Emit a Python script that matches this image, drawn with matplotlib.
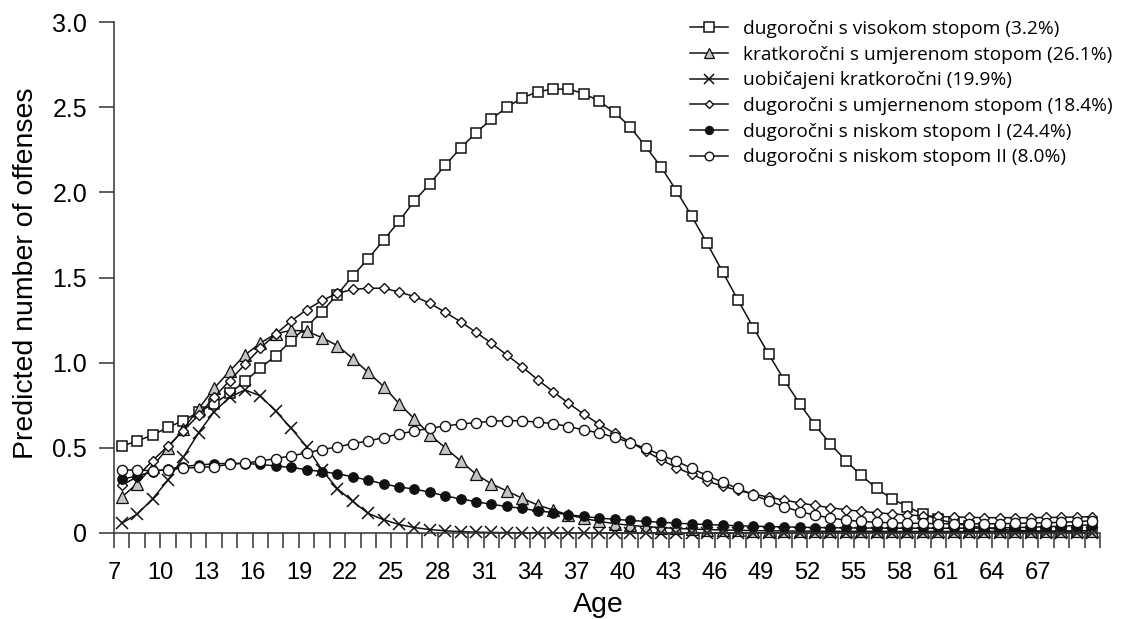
import matplotlib
matplotlib.use('Agg')
import matplotlib.pyplot as plt
from matplotlib.font_manager import FontProperties

# ---------------- data ----------------
ages = list(range(7, 71))

high_rate = [0.51, 0.54, 0.575, 0.62, 0.66, 0.71, 0.76, 0.82, 0.89, 0.97,
             1.04, 1.13, 1.21, 1.30, 1.40, 1.51, 1.61, 1.72, 1.83, 1.95,
             2.05, 2.16, 2.26, 2.35, 2.43, 2.50, 2.555, 2.59, 2.607, 2.605,
             2.58, 2.535, 2.47, 2.384, 2.27, 2.15, 2.01, 1.86, 1.70, 1.534,
             1.368, 1.206, 1.049, 0.898, 0.76, 0.634, 0.523, 0.425, 0.338, 0.262,
             0.20, 0.155, 0.11, 0.08, 0.058, 0.042, 0.03, 0.022, 0.016, 0.012,
             0.009, 0.007, 0.005, 0.004]

short_moderate = [0.21, 0.29, 0.39, 0.50, 0.61, 0.73, 0.85, 0.95, 1.045, 1.115,
                  1.17, 1.19, 1.185, 1.147, 1.10, 1.024, 0.943, 0.86, 0.76, 0.67,
                  0.578, 0.50, 0.423, 0.345, 0.288, 0.247, 0.204, 0.164, 0.135, 0.106,
                  0.086, 0.068, 0.055, 0.045, 0.038, 0.032, 0.027, 0.023, 0.02, 0.018,
                  0.016, 0.014, 0.013, 0.012, 0.011, 0.011, 0.010, 0.010, 0.010, 0.010,
                  0.009, 0.009, 0.009, 0.009, 0.009, 0.009, 0.010, 0.010, 0.010, 0.011,
                  0.011, 0.012, 0.013, 0.014]

usual_short = [0.057, 0.11, 0.20, 0.31, 0.445, 0.59, 0.712, 0.797, 0.84, 0.805,
               0.715, 0.615, 0.507, 0.37, 0.26, 0.185, 0.115, 0.078, 0.05, 0.032,
               0.02, 0.013, 0.008, 0.005, 0.003, 0.002, 0.001, 0.001, 0.0, 0.0,
               0.0, 0.0, 0.0, 0.0, 0.0, 0.0, 0.0, 0.0, 0.0, 0.0,
               0.0, 0.0, 0.0, 0.0, 0.0, 0.0, 0.0, 0.0, 0.0, 0.0,
               0.0, 0.0, 0.0, 0.0, 0.0, 0.0, 0.0, 0.0, 0.0, 0.0,
               0.0, 0.0, 0.0, 0.0]

long_moderate = [0.28, 0.33, 0.425, 0.51, 0.60, 0.693, 0.797, 0.894, 0.99, 1.085,
                 1.168, 1.245, 1.31, 1.365, 1.407, 1.43, 1.437, 1.437, 1.415, 1.388,
                 1.349, 1.296, 1.24, 1.178, 1.114, 1.045, 0.975, 0.90, 0.83, 0.762,
                 0.697, 0.638, 0.585, 0.535, 0.482, 0.43, 0.384, 0.345, 0.305, 0.275,
                 0.25, 0.23, 0.21, 0.193, 0.177, 0.162, 0.148, 0.137, 0.127, 0.119,
                 0.112, 0.106, 0.101, 0.097, 0.094, 0.092, 0.09, 0.09, 0.09, 0.09,
                 0.091, 0.092, 0.094, 0.096]

long_low_1 = [0.315, 0.335, 0.36, 0.375, 0.39, 0.40, 0.405, 0.41, 0.408, 0.403,
              0.393, 0.385, 0.372, 0.36, 0.348, 0.33, 0.31, 0.288, 0.27, 0.258,
              0.24, 0.218, 0.20, 0.184, 0.168, 0.156, 0.144, 0.13, 0.12, 0.107,
              0.097, 0.088, 0.08, 0.074, 0.068, 0.063, 0.058, 0.053, 0.05, 0.046,
              0.042, 0.04, 0.038, 0.036, 0.034, 0.032, 0.031, 0.03, 0.029, 0.029,
              0.028, 0.028, 0.028, 0.028, 0.028, 0.028, 0.029, 0.03, 0.032, 0.034,
              0.037, 0.04, 0.044, 0.048]

long_low_2 = [0.37, 0.37, 0.365, 0.372, 0.38, 0.385, 0.39, 0.403, 0.41, 0.423,
              0.437, 0.453, 0.47, 0.49, 0.505, 0.525, 0.54, 0.56, 0.582, 0.598,
              0.615, 0.628, 0.64, 0.648, 0.656, 0.66, 0.658, 0.651, 0.642, 0.625,
              0.605, 0.587, 0.562, 0.53, 0.497, 0.458, 0.422, 0.38, 0.337, 0.297,
              0.262, 0.224, 0.188, 0.155, 0.125, 0.105, 0.088, 0.076, 0.068, 0.063,
              0.06, 0.058, 0.056, 0.055, 0.054, 0.054, 0.054, 0.055, 0.056, 0.058,
              0.06, 0.063, 0.067, 0.072]

series_labels = ["dugoročni s visokom stopom (3.2%)",
                 "kratkoročni s umjerenom stopom (26.1%)",
                 "uobičajeni kratkoročni (19.9%)",
                 "dugoročni s umjernenom stopom (18.4%)",
                 "dugoročni s niskom stopom I (24.4%)",
                 "dugoročni s niskom stopom II (8.0%)"]

ytick_values = [0, 0.5, 1.0, 1.5, 2.0, 2.5, 3.0]
ytick_labels = ["0", "0.5", "1.0", "1.5", "2.0", "2.5", "3.0"]
xtick_label_ages = list(range(7, 68, 3))

# ---------------- figure ----------------
W, H = 1124, 619
fig = plt.figure(figsize=(W / 100, H / 100), dpi=100)
ax_left, ax_right, ax_top, ax_bottom = 114, 1100, 22, 533
ax = fig.add_axes([ax_left / W, 1 - ax_bottom / H,
                   (ax_right - ax_left) / W, (ax_bottom - ax_top) / H])

axis_font = 'Liberation Sans'
lw = 1.1
black = '#111111'

styles = [
    dict(marker='s', ms=7.8, mfc='white', mec=black, mew=1.1),
    dict(marker='^', ms=8, mfc='#c4c4c4', mec=black, mew=0.9),
    dict(marker='x', ms=8.5, mfc='none', mec=black, mew=1.1),
    dict(marker='D', ms=5, mfc='white', mec=black, mew=1.0),
    dict(marker='o', ms=6.8, mfc=black, mec=black, mew=0.9),
    dict(marker='o', ms=7.3, mfc='white', mec=black, mew=1.0),
]
data = [high_rate, short_moderate, usual_short, long_moderate, long_low_1, long_low_2]

for vals, lab, st in zip(data, series_labels, styles):
    ax.plot(ages, vals, color=black, lw=lw, label=lab, clip_on=False, **st)

ax.set_xlim(ages[0] - 0.5, ages[-1] + 0.5)
ax.set_ylim(0, 3.0)

for s in ['top', 'right']:
    ax.spines[s].set_visible(False)
for s in ['left', 'bottom']:
    ax.spines[s].set_linewidth(1.1)
    ax.spines[s].set_color('#333333')

xt = [a - 0.5 for a in ages] + [ages[-1] + 0.5]
xl = [str(a) if a in xtick_label_ages else '' for a in ages] + ['']
ax.set_xticks(xt)
ax.set_xticklabels(xl, fontfamily=axis_font, fontsize=17)
ax.set_yticks(ytick_values)
ax.set_yticklabels(ytick_labels, fontfamily=axis_font, fontsize=18)
ax.tick_params(axis='x', direction='out', length=10.8, width=1.1, color='#333333', pad=10)
ax.tick_params(axis='y', direction='out', length=10.8, width=1.1, color='#333333', pad=8.6)

fig.text(26 / W, 1 - 273.5 / H, "Predicted number of offenses", rotation=90,
         ha='center', va='center', fontfamily=axis_font, fontsize=20.5)
fig.text(598 / W, 1 - 612 / H, "Age", ha='center', va='baseline',
         fontfamily=axis_font, fontsize=20.5)

leg = ax.legend(loc='upper left', bbox_to_anchor=(690 / W, 1 - 20 / H),
                bbox_transform=fig.transFigure, frameon=False,
                prop=FontProperties(family='Open Sans', size=13.8),
                handlelength=2.0, handletextpad=0.78, labelspacing=0.4,
                borderpad=0, borderaxespad=0, numpoints=1, markerscale=0.85)

fig.savefig('out.png', dpi=100)
